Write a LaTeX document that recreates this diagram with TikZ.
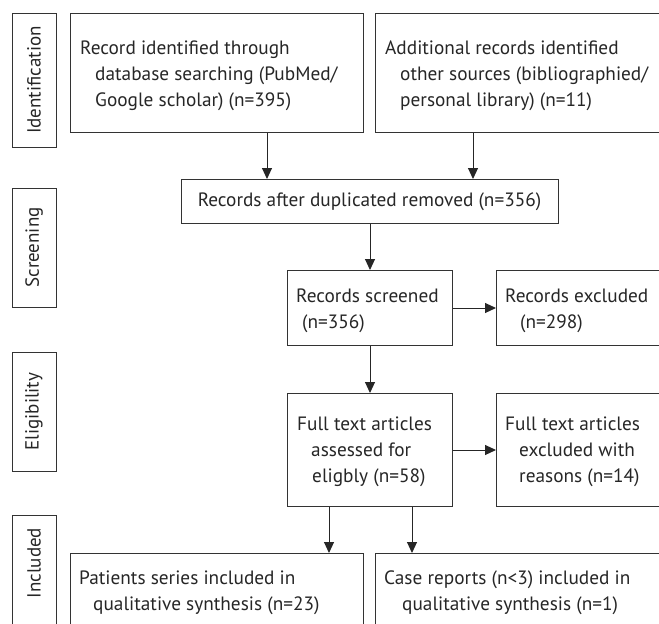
\documentclass[tikz,border=0pt]{standalone}
\usepackage{fontspec}
\setmainfont{PT Sans}
\usetikzlibrary{arrows.meta}
\newcommand\mlines[1]{\vtop{\baselineskip=26pt\lineskiplimit=-30pt #1}}
\newcommand\mline[2][0pt]{\hbox{\hspace*{#1}#2}}
\begin{document}
\begin{tikzpicture}[x=1pt,y=-1pt,
  box/.style={draw=black!80, line width=1pt, rectangle, anchor=north west, inner sep=0pt},
  txt/.style={anchor=base west, inner sep=0pt, text=black!85, font=\fontsize{19.3}{26}\selectfont},
  ctxt/.style={anchor=base, inner sep=0pt, text=black!85, font=\fontsize{19.3}{26}\selectfont},
  side/.style={rotate=90, inner sep=0pt, text=black!85, font=\fontsize{19}{22}\selectfont},
  arr/.style={draw=black!85, line width=1pt, -{Triangle[width=10pt,length=11pt]}}]
\useasboundingbox (0,0) rectangle (659,624);
\clip (0,0) rectangle (659,624);
% side labels
\node[box, minimum width=44pt, minimum height=134pt] (idbox) at (12,13) {};
\node[side] (idtxt) at (34,80) {Identification};
\node[box, minimum width=44pt, minimum height=119pt] (scbox) at (12,188) {};
\node[side] (sctxt) at (34,247.5) {Screening};
\node[box, minimum width=44pt, minimum height=119pt] (elbox) at (12,352) {};
\node[side] (eltxt) at (34,411.5) {Eligibility};
\node[box, minimum width=44pt, minimum height=140pt] (inbox) at (12,515) {};
\node[side] (intxt) at (34,563) {Included};
% boxes
\node[box, minimum width=293pt, minimum height=119pt] (b1) at (70,13) {};
\node[box, minimum width=330pt, minimum height=119pt] (b2) at (375,13) {};
\node[box, minimum width=377pt, minimum height=44pt] (dup) at (181,179) {};
\node[box, minimum width=165pt, minimum height=75pt] (scr) at (287,270) {};
\node[box, minimum width=210pt, minimum height=75pt] (exc) at (496,270) {};
\node[box, minimum width=165pt, minimum height=113pt] (ft) at (287,393) {};
\node[box, minimum width=210pt, minimum height=113pt] (fte) at (496,393) {};
\node[box, minimum width=293pt, minimum height=120pt] (pat) at (70,553) {};
\node[box, minimum width=330pt, minimum height=120pt] (case) at (375,553) {};
% texts
\node[txt] (b1t) at (80,54) {\mlines{\mline{Record identified through}\mline[15pt]{database searching (PubMed/}\mline[15pt]{Google scholar) (n=395)}}};
\node[txt] (b2t) at (385,54) {\mlines{\mline{Additional records identified}\mline[15pt]{other sources (bibliographied/}\mline[15pt]{personal library) (n=11)}}};
\node[ctxt] (dupt) at (369.5,206) {Records after duplicated removed (n=356)};
\node[txt] (scrt) at (296,302) {\mlines{\mline{Records screened}\mline[6pt]{(n=356)}}};
\node[txt] (exct) at (505,302) {\mlines{\mline{Records excluded}\mline[15pt]{(n=298)}}};
\node[txt] (ftt) at (297,430) {\mlines{\mline{Full text articles}\mline[14pt]{assessed for}\mline[15pt]{eligbly (n=58)}}};
\node[txt] (ftet) at (505,430) {\mlines{\mline{Full text articles}\mline[14pt]{excluded with}\mline[14pt]{reasons (n=14)}}};
\node[txt] (patt) at (79,584) {\mlines{\mline{Patients series included in}\mline[14pt]{qualitative synthesis (n=23)}}};
\node[txt] (caset) at (384,584) {\mlines{\mline{Case reports (n<3) included in}\mline[18pt]{qualitative synthesis (n=1)}}};
% connectors
\draw[arr] (267,0 |- b1.south) -- (267,0 |- dup.north);
\draw[arr] (473,0 |- b2.south) -- (473,0 |- dup.north);
\draw[arr] (dup.south -| scr.north) -- (scr.north);
\draw[arr] (scr.east) -- (scr.east -| exc.west);
\draw[arr] (scr.south) -- (ft.north);
\draw[arr] (ft.east) -- (ft.east -| fte.west);
\draw[arr] (329,0 |- ft.south) -- (329,0 |- pat.north);
\draw[arr] (412,0 |- ft.south) -- (412,0 |- case.north);
\end{tikzpicture}
\end{document}
